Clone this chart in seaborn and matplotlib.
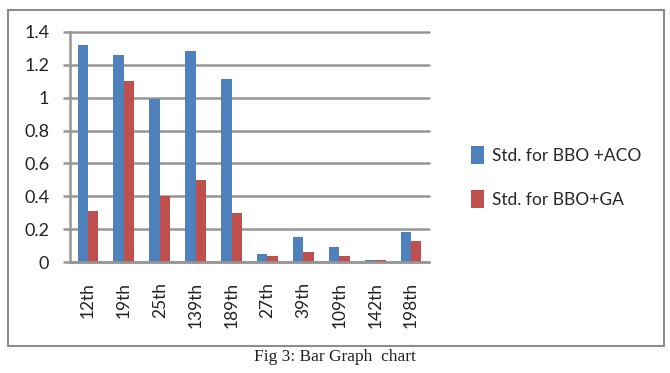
import matplotlib
matplotlib.use("Agg")
import matplotlib.pyplot as plt
import seaborn as sns
import pandas as pd
from matplotlib.patches import Rectangle, Patch

categories = ["12th", "19th", "25th", "139th", "189th", "27th", "39th", "109th", "142th", "198th"]
aco_values = [1.32, 1.26, 0.99, 1.28, 1.11, 0.05, 0.155, 0.09, 0.015, 0.185]
ga_values = [0.31, 1.10, 0.40, 0.50, 0.30, 0.037, 0.06, 0.037, 0.012, 0.13]
series_names = ["Std. for BBO +ACO", "Std. for BBO+GA"]
y_ticks = [0, 0.2, 0.4, 0.6, 0.8, 1, 1.2, 1.4]
y_tick_labels = ["0", "0.2", "0.4", "0.6", "0.8", "1", "1.2", "1.4"]
caption = "Fig 3: Bar Graph  chart"

df = pd.DataFrame({
    "category": categories * 2,
    "value": aco_values + ga_values,
    "series": [series_names[0]] * len(categories) + [series_names[1]] * len(categories),
})

sns.set_theme(style="white")
plt.rcParams["font.family"] = ["Lato", "DejaVu Sans"]

colors = ["#4F81BD", "#C0504D"]
grid_c = "#969696"

fig = plt.figure(figsize=(6.70, 3.73), dpi=100)
ax = fig.add_axes([70 / 670, 1 - 262.3 / 373, (429 - 70) / 670, (262.3 - 31.7) / 373])

sns.barplot(data=df, x="category", y="value", hue="series", order=categories,
            hue_order=series_names, palette=colors, width=0.58, gap=0,
            saturation=1, ax=ax, legend=False, edgecolor="none")

ax.set_ylim(0, 1.4)
ax.set_xlim(-0.5, len(categories) - 0.5)
ax.set_yticks(y_ticks)
ax.set_yticklabels(y_tick_labels, fontsize=13, color="#222222")
ax.set_xticks(range(len(categories)))
ax.set_xticklabels(categories, rotation=90, fontsize=12.5, color="#222222")
ax.set_xticks([i - 0.5 for i in range(len(categories) + 1)], minor=True)
ax.tick_params(axis="x", which="major", length=0, pad=14)
ax.tick_params(axis="x", which="minor", length=5.5, width=1.8, color=grid_c, direction="out")
ax.tick_params(axis="y", which="major", length=5, width=1.8, color=grid_c, pad=10, left=True)
ax.set_xlabel("")
ax.set_ylabel("")

ax.yaxis.grid(True, color=grid_c, linewidth=1.8)
ax.set_axisbelow(True)
for gl in ax.get_ygridlines():
    gl.set_clip_on(False)

for s in ["top", "right"]:
    ax.spines[s].set_visible(False)
for s in ["left", "bottom"]:
    ax.spines[s].set_color(grid_c)
    ax.spines[s].set_linewidth(1.8)

handles = [Patch(facecolor=c, edgecolor="none") for c in colors]
fig.legend(handles, series_names, loc="center left", bbox_to_anchor=(455 / 670, 1 - 177 / 373),
           frameon=False, fontsize=12.5, handlelength=0.75, handleheight=1.2,
           handletextpad=0.5, labelspacing=1.5)

fig.patches.append(Rectangle((7.5 / 670, 1 - 345.5 / 373), (663.5 - 7.5) / 670, (345.5 - 10) / 373,
                             transform=fig.transFigure, fill=False, edgecolor="#8c8c8c",
                             linewidth=1.5))

fig.text(335 / 670, 1 - 357 / 373, caption, ha="center", va="center", fontsize=12.5,
         family=["Liberation Serif", "DejaVu Serif"], color="#222222")

fig.savefig("out.png", dpi=100, facecolor="white")
